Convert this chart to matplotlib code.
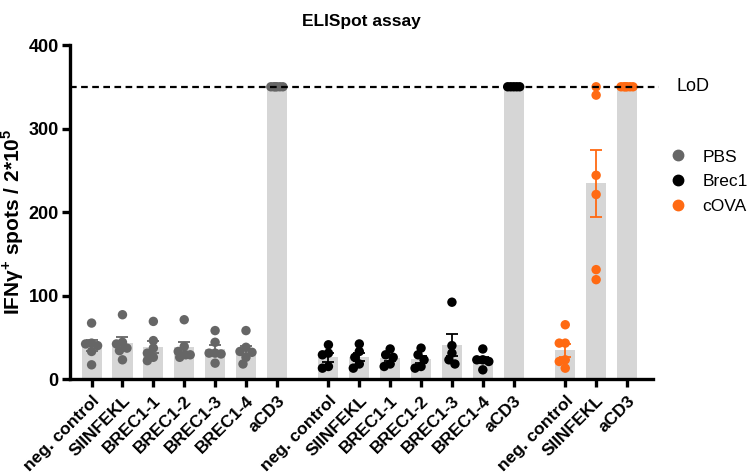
import numpy as np
import matplotlib
matplotlib.use("Agg")
import matplotlib.pyplot as plt
from matplotlib.lines import Line2D

plt.rcParams['font.family'] = ['Liberation Sans', 'DejaVu Sans']
plt.rcParams['mathtext.fontset'] = 'custom'
plt.rcParams['mathtext.rm'] = 'Liberation Sans:bold'
plt.rcParams['mathtext.bf'] = 'Liberation Sans:bold'

# ---- data ----
groups = ["PBS", "Brec1", "cOVA"]
group_colors = ["#666666", "#000000", "#FF6A13"]

pbs_labels = ["neg. control", "SIINFEKL", "BREC1-1", "BREC1-2", "BREC1-3", "BREC1-4", "aCD3"]
brec1_labels = ["neg. control", "SIINFEKL", "BREC1-1", "BREC1-2", "BREC1-3", "BREC1-4", "aCD3"]
cova_labels = ["neg. control", "SIINFEKL", "aCD3"]

pbs_values = [
    [67, 43, 42, 40, 33, 17],
    [77, 44, 42, 37, 34, 23],
    [69, 46, 37, 31, 26, 22],
    [71, 39, 33, 29, 29, 26],
    [58, 44, 31, 31, 30, 19],
    [58, 38, 33, 32, 26, 18],
    [350, 350, 350, 350, 350, 350],
]
brec1_values = [
    [41, 31, 29, 15, 13],
    [42, 33, 26, 18, 13],
    [36, 29, 26, 18, 15],
    [37, 29, 23, 15, 13],
    [92, 40, 31, 23, 18],
    [36, 23, 23, 21, 11],
    [350, 350, 350, 350, 350],
]
cova_values = [
    [65, 43, 43, 23, 21, 13],
    [350, 340, 244, 221, 131, 119],
    [350, 350, 350, 350, 350, 350],
]
lod = 350

all_labels = [pbs_labels, brec1_labels, cova_labels]
all_values = [pbs_values, brec1_values, cova_values]

# ---- layout ----
fig = plt.figure(figsize=(7.5, 4.73), dpi=100)
ax = fig.add_axes([0.0933, 0.1987, 0.7773, 0.7061])

group_gap = 0.67
xmin, xmax = -0.70, 18.18
ax.set_xlim(xmin, xmax)
ax.set_ylim(0, 400)

ax_w_px = 0.7773 * 750
ax_h_px = 0.7061 * 473
px_per_x = ax_w_px / (xmax - xmin)
px_per_y = ax_h_px / 400.0


def swarm_offsets(vals, dot=9.0, step=1.5, max_px=6.0):
    # simple beeswarm in pixel space, returns x offsets in data units
    order = np.argsort(vals)[::-1]
    placed = []
    offs = np.zeros(len(vals))
    cands = [0.0]
    k = step
    while k <= max_px + 1e-9:
        cands += [-k, k]
        k += step
    for i in order:
        yp = vals[i] * px_per_y
        best, best_d = 0.0, -1
        for c in cands:
            d = min([np.hypot(c - px, yp - py) for px, py in placed] or [1e9])
            if d >= dot * 0.8:
                best = c
                break
            if d > best_d:
                best, best_d = c, d
        placed.append((best, yp))
        offs[i] = best / px_per_x
    return offs


ticks, ticklabels = [], []
pos = 0.0
for g, (labels, values, col) in enumerate(zip(all_labels, all_values, group_colors)):
    for lab, vals in zip(labels, values):
        vals = np.array(vals, dtype=float)
        mean = vals.mean()
        sem = vals.std(ddof=1) / np.sqrt(len(vals))
        ax.bar(pos, mean, width=0.65, color="#D6D6D6", zorder=1)
        xs = pos + swarm_offsets(vals)
        ax.scatter(xs, vals, s=46, color=col, edgecolors="none", zorder=3, clip_on=False)
        if sem > 0:
            ax.errorbar(pos, mean, yerr=sem, color=col, capsize=4, elinewidth=1.3,
                        capthick=1.3, zorder=4)
        ticks.append(pos)
        ticklabels.append(lab)
        pos += 1
    pos += group_gap

# limit of detection line
ax.plot([xmin, xmax + 0.2], [lod, lod], ls=(0, (3, 2)), color="black", lw=1.6,
        zorder=5, clip_on=False)
ax.text(xmax + 0.75, lod, "LoD", ha="left", va="center", fontsize=13)

# axes styling
for s in ["top", "right"]:
    ax.spines[s].set_visible(False)
ax.spines["left"].set_linewidth(2.4)
ax.spines["bottom"].set_linewidth(2.4)
ax.set_xticks(ticks)
ax.set_xticklabels(ticklabels, rotation=45, ha="right", rotation_mode="anchor",
                   fontsize=12.5, fontweight="bold")
ax.set_yticks([0, 100, 200, 300, 400])
ax.tick_params(axis="both", width=2.4, length=6, direction="out")
ax.tick_params(axis="x", pad=4)
ax.tick_params(axis="y", labelsize=13, pad=2)
for t in ax.get_yticklabels():
    t.set_fontweight("bold")

ax.set_ylabel(r"IFNγ$^{+}$ spots / 2*10$^{5}$", fontsize=15, fontweight="bold")
ax.yaxis.set_label_coords(-0.075, 0.47)
ax.set_title("ELISpot assay", fontsize=12.5, fontweight="bold", pad=14)

handles = [Line2D([], [], marker="o", ls="none", color=c, markersize=7.5) for c in group_colors]
fig.legend(handles, groups, loc="center left", bbox_to_anchor=(0.893, 0.616),
           frameon=False, fontsize=12.5, handlelength=1.0, handletextpad=0.9,
           labelspacing=0.55, borderpad=0, borderaxespad=0)

fig.savefig("out.png", dpi=100)
